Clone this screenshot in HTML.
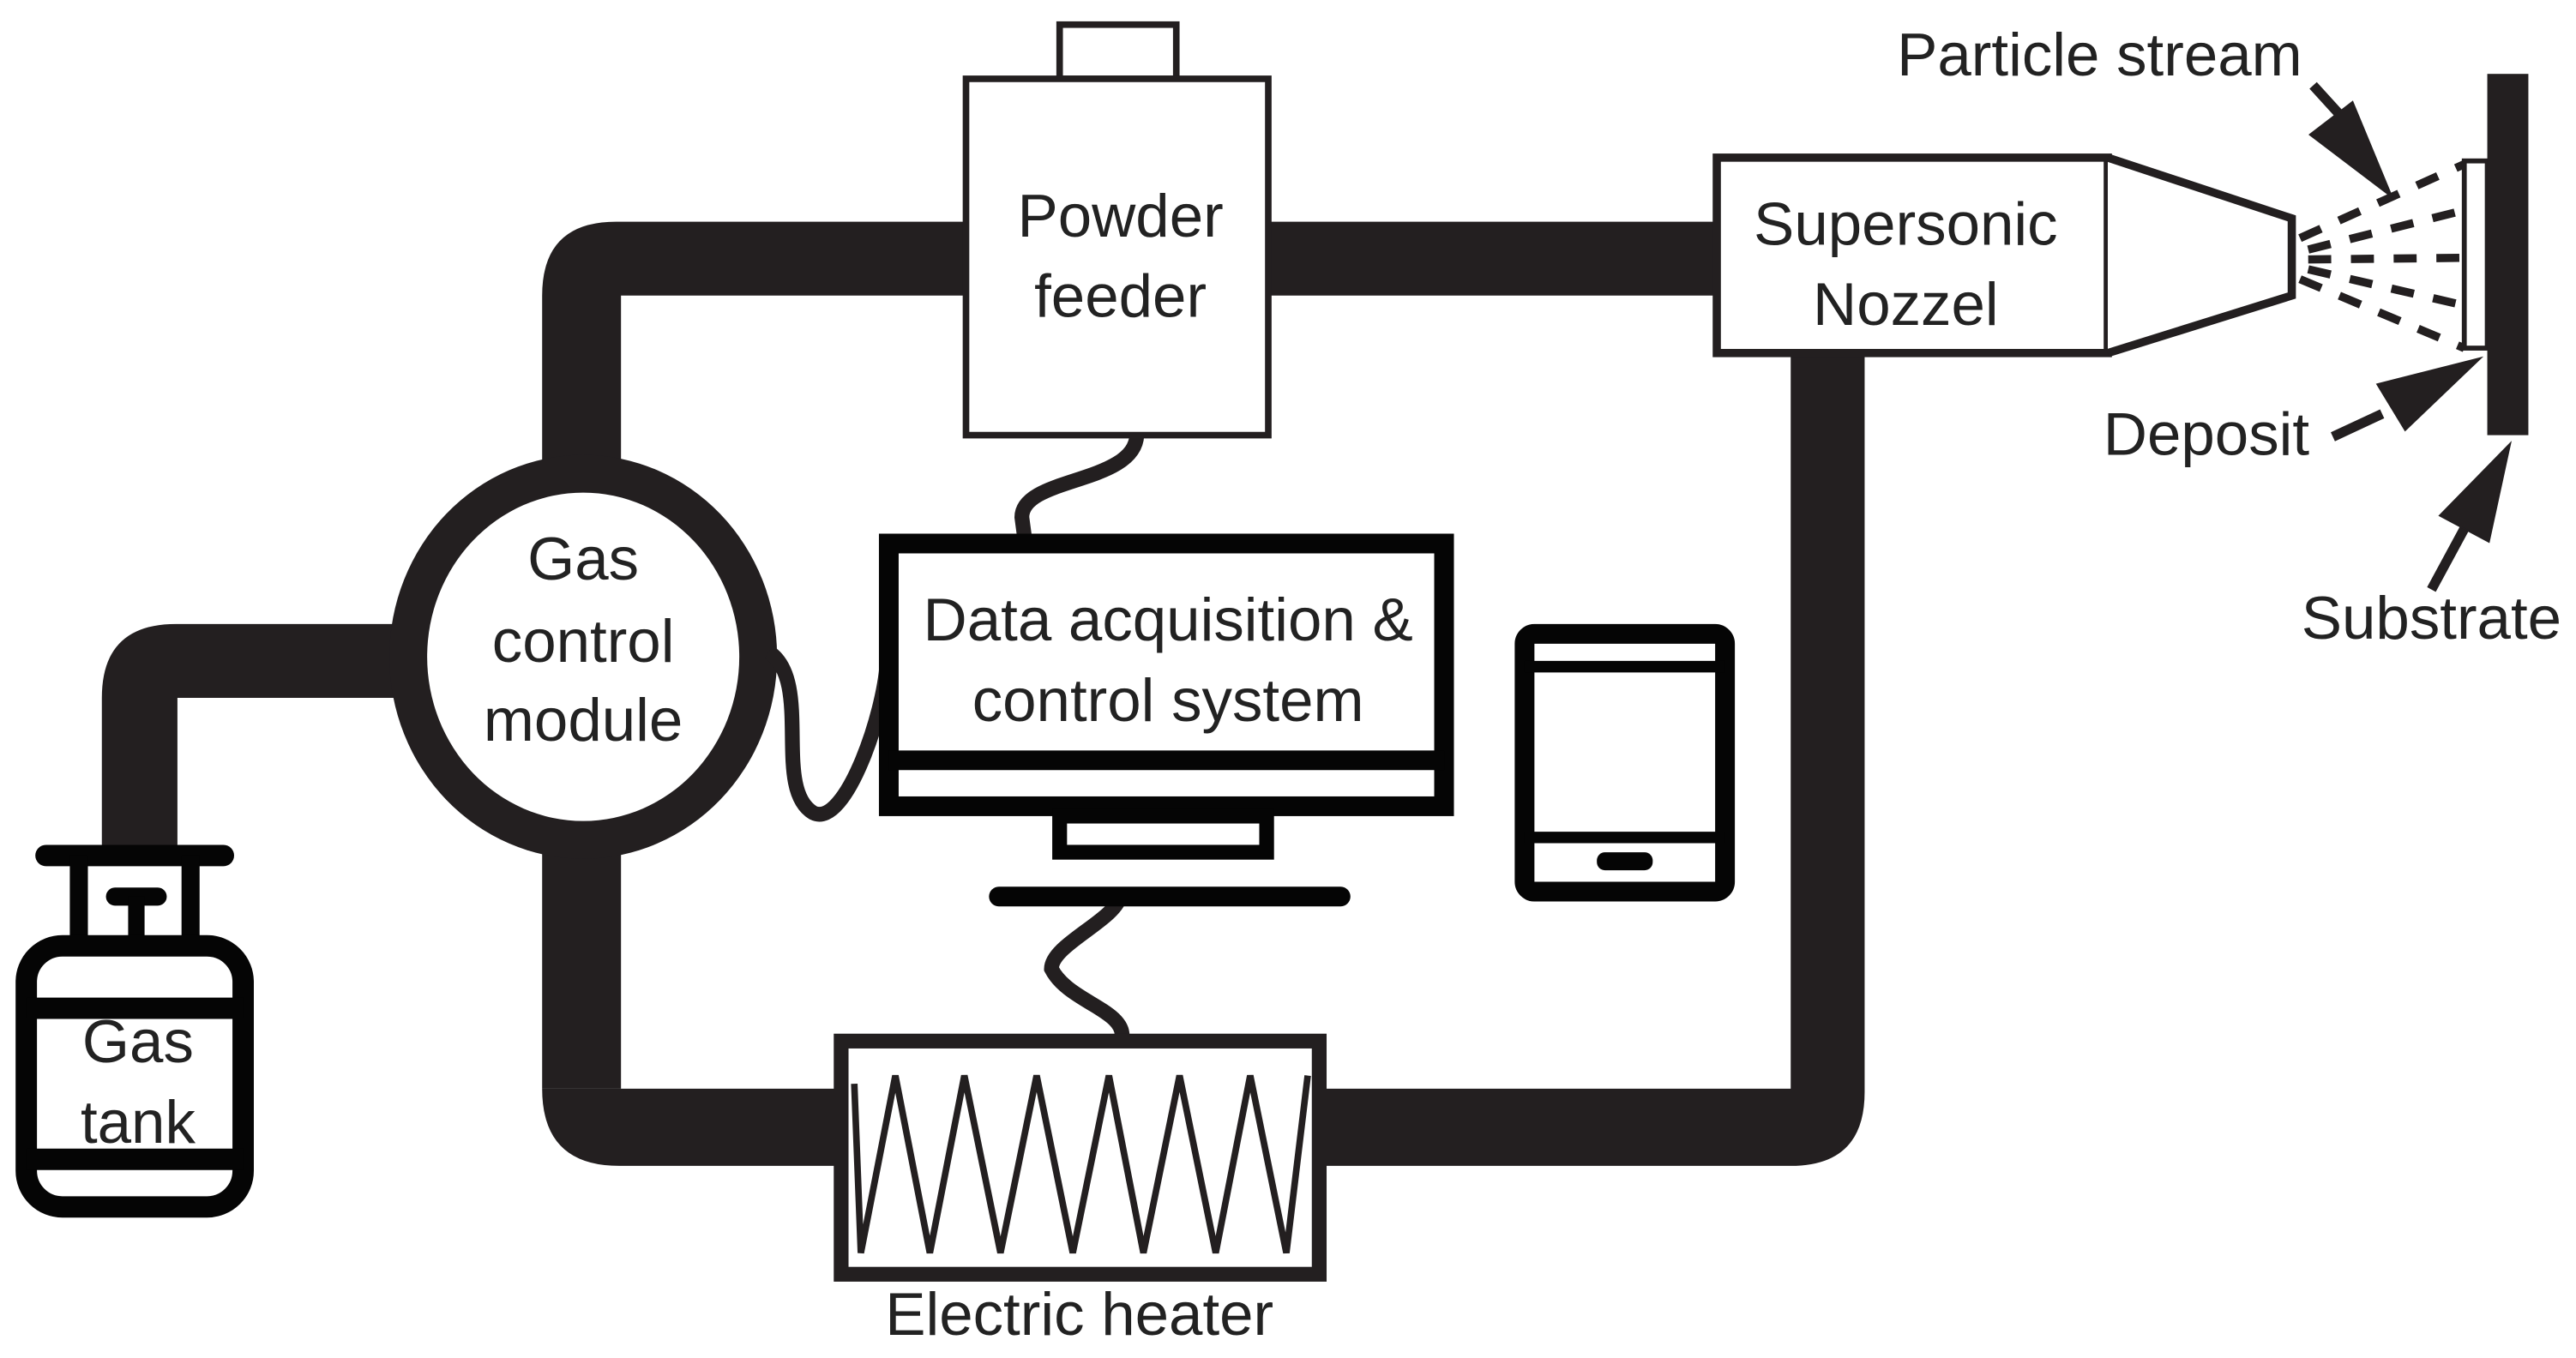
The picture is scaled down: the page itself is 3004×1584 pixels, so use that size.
<!DOCTYPE html>
<html><head><meta charset="utf-8"><style>
html,body{margin:0;padding:0;background:#fff}
svg{display:block}
text{font-family:"Liberation Sans",sans-serif;fill:#222;font-size:37px}
</style></head><body>
<svg width="3004" height="1584" viewBox="0 0 1568 827" preserveAspectRatio="none" xmlns="http://www.w3.org/2000/svg">
<g fill="#231f20">
<path d="M330,180 Q330,135 375,135 L1045,135 L1045,180 L378,180 L378,663 L330,663 Z"/>
<path d="M330,663 Q330,710 377,710 L1090,710 Q1135,710 1135,665 L1135,215 L1090,215 L1090,663 Z"/>
<path d="M108,515 L62,515 L62,425 Q62,380 107,380 L245,380 L245,425 L108,425 Z"/>
<ellipse cx="355" cy="400" rx="118" ry="123"/>
</g>
<ellipse cx="355" cy="400" rx="95" ry="100" fill="#fff"/>
<rect x="645" y="15" width="71" height="33" fill="#fff" stroke="#231f20" stroke-width="4"/>
<rect x="588" y="48" width="184" height="217" fill="#fff" stroke="#231f20" stroke-width="4"/>
<rect x="1045" y="96" width="238" height="119" fill="#fff" stroke="#231f20" stroke-width="5"/>
<path d="M1283,96 L1395,133 L1395,180 L1283,215" fill="#fff" stroke="#231f20" stroke-width="5"/>
<g stroke="#231f20" stroke-width="5" stroke-dasharray="14,12" fill="none">
<path d="M1400,145 L1500,100"/><path d="M1405,152 L1500,128"/><path d="M1405,158 L1500,157"/>
<path d="M1405,164 L1500,186"/><path d="M1400,170 L1500,212"/>
</g>
<rect x="1500" y="98" width="14" height="114" fill="#fff" stroke="#231f20" stroke-width="3"/>
<rect x="1514" y="45" width="25" height="220" fill="#231f20"/>
<g fill="#231f20" stroke="#231f20">
<line x1="1408" y1="52" x2="1428" y2="74" stroke-width="6"/>
<polygon points="1406,82 1432,62 1456,120" stroke-width="1"/>
<line x1="1420" y1="266" x2="1450" y2="252" stroke-width="6"/>
<polygon points="1447,234 1510,218 1464,262" stroke-width="1"/>
<line x1="1480" y1="359" x2="1500" y2="322" stroke-width="6"/>
<polygon points="1485,314 1528,270 1515,330" stroke-width="1"/>
</g>
<g fill="none" stroke="#231f20" stroke-width="9">
<path d="M692,264 C692,295 622,290 622,315 L624,330"/>
<path d="M468,397 C495,415 470,480 495,495 C515,505 540,430 540,400"/>
<path d="M682,545 C680,560 640,575 640,590 C650,610 685,615 683,632"/>
</g>
<rect x="541" y="331" width="338" height="160" fill="#fff" stroke="#050505" stroke-width="12"/>
<line x1="541" y1="463" x2="879" y2="463" stroke="#050505" stroke-width="12"/>
<rect x="645" y="497" width="126" height="22" fill="#fff" stroke="#050505" stroke-width="9"/>
<line x1="608" y1="546" x2="816" y2="546" stroke="#050505" stroke-width="12" stroke-linecap="round"/>
<rect x="928" y="386" width="122" height="157" rx="6" fill="#fff" stroke="#050505" stroke-width="12"/>
<line x1="928" y1="406" x2="1050" y2="406" stroke="#050505" stroke-width="7"/>
<line x1="928" y1="510" x2="1050" y2="510" stroke="#050505" stroke-width="7"/>
<rect x="972" y="519" width="34" height="11" rx="5" fill="#050505"/>
<rect x="512" y="634" width="291" height="142" fill="#fff" stroke="#231f20" stroke-width="9"/>
<polyline points="520,660 524,763 545,655 566,763 587,655 609,763 631,655 653,763 675,655 696,763 718,655 740,763 761,655 783,763 796,655" fill="none" stroke="#231f20" stroke-width="4"/>
<line x1="28" y1="521" x2="136" y2="521" stroke="#050505" stroke-width="13" stroke-linecap="round"/>
<path d="M48,521 L48,578 M116,521 L116,578" stroke="#050505" stroke-width="11"/>
<line x1="70" y1="546" x2="96" y2="546" stroke="#050505" stroke-width="11" stroke-linecap="round"/>
<line x1="83" y1="546" x2="83" y2="578" stroke="#050505" stroke-width="10"/>
<rect x="16" y="576" width="132" height="159" rx="22" fill="#fff" stroke="#050505" stroke-width="13"/>
<line x1="16" y1="614" x2="148" y2="614" stroke="#050505" stroke-width="13"/>
<line x1="16" y1="706" x2="148" y2="706" stroke="#050505" stroke-width="13"/>
<text x="682" y="144" text-anchor="middle">Powder</text>
<text x="682" y="193" text-anchor="middle">feeder</text>
<text x="1160" y="149" text-anchor="middle">Supersonic</text>
<text x="1160" y="198" text-anchor="middle">Nozzel</text>
<text x="1278" y="46" text-anchor="middle">Particle stream</text>
<text x="1343" y="277" text-anchor="middle">Deposit</text>
<text x="1480" y="389" text-anchor="middle">Substrate</text>
<text x="355" y="353" text-anchor="middle">Gas</text>
<text x="355" y="403" text-anchor="middle">control</text>
<text x="355" y="451" text-anchor="middle">module</text>
<text x="711" y="390" text-anchor="middle">Data acquisition &amp;</text>
<text x="711" y="439" text-anchor="middle">control system</text>
<text x="84" y="647" text-anchor="middle">Gas</text>
<text x="84" y="696" text-anchor="middle">tank</text>
<text x="657" y="813" text-anchor="middle">Electric heater</text>
</svg>
</body></html>
